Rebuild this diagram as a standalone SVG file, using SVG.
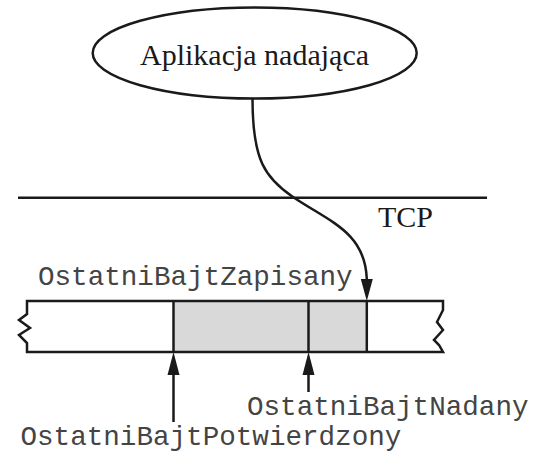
<svg xmlns="http://www.w3.org/2000/svg" width="541" height="452" viewBox="0 0 541 452">
<defs>
<style>
.ln{fill:none;stroke:#1a1a1a;stroke-width:2.5}
.serif{font-family:"Liberation Serif","Times New Roman",serif;fill:#1a1a1a}
.mono{font-family:"Liberation Mono","Courier New",monospace;font-size:27.6px;fill:#444}
.head{fill:#1a1a1a}
</style>
</defs>
<rect width="541" height="452" fill="#fff"/>
<g id="app">
<ellipse cx="254.7" cy="53" rx="162" ry="45.5" class="ln"/>
<text x="254.5" y="65" text-anchor="middle" class="serif" font-size="30">Aplikacja nadająca</text>
</g>
<g id="tcp">
<line x1="18" y1="197.7" x2="487" y2="197.7" class="ln" stroke-width="2.2"/>
<text x="378" y="226.7" class="serif" font-size="30">TCP</text>
</g>
<g id="buffer">
<rect x="173.5" y="301" width="193.5" height="51" fill="#d9d9d9"/>
<path class="ln" d="M27,301 L443,301 L443,310 L437,322 L443,330 L434,340 L439,345 L443,352 L27,352 L27,343 L19,335 L30,328 L19,320 L27,314 Z"/>
<line x1="173.5" y1="301" x2="173.5" y2="352" class="ln"/>
<line x1="308.5" y1="301" x2="308.5" y2="352" class="ln"/>
<line x1="366.8" y1="301" x2="366.8" y2="352" class="ln"/>
</g>
<g id="connectors">
<path class="ln" d="M252.5,99 C252.5,160 265,178 293,197 C330,222 365,232 366.8,279"/>
<path class="head" d="M360.8,279 L372.8,279 L366.8,301 Z"/>
<line x1="173.5" y1="422" x2="173.5" y2="372" class="ln"/>
<path class="head" d="M167.5,375 L179.5,375 L173.5,352 Z"/>
<line x1="308.5" y1="392" x2="308.5" y2="372" class="ln"/>
<path class="head" d="M302.5,375 L314.5,375 L308.5,352 Z"/>
</g>
<g id="labels">
<text x="38" y="285" class="mono">OstatniBajtZapisany</text>
<text x="247" y="415" class="mono">OstatniBajtNadany</text>
<text x="20.5" y="445" class="mono" font-size="27.9">OstatniBajtPotwierdzony</text>
</g>
</svg>
